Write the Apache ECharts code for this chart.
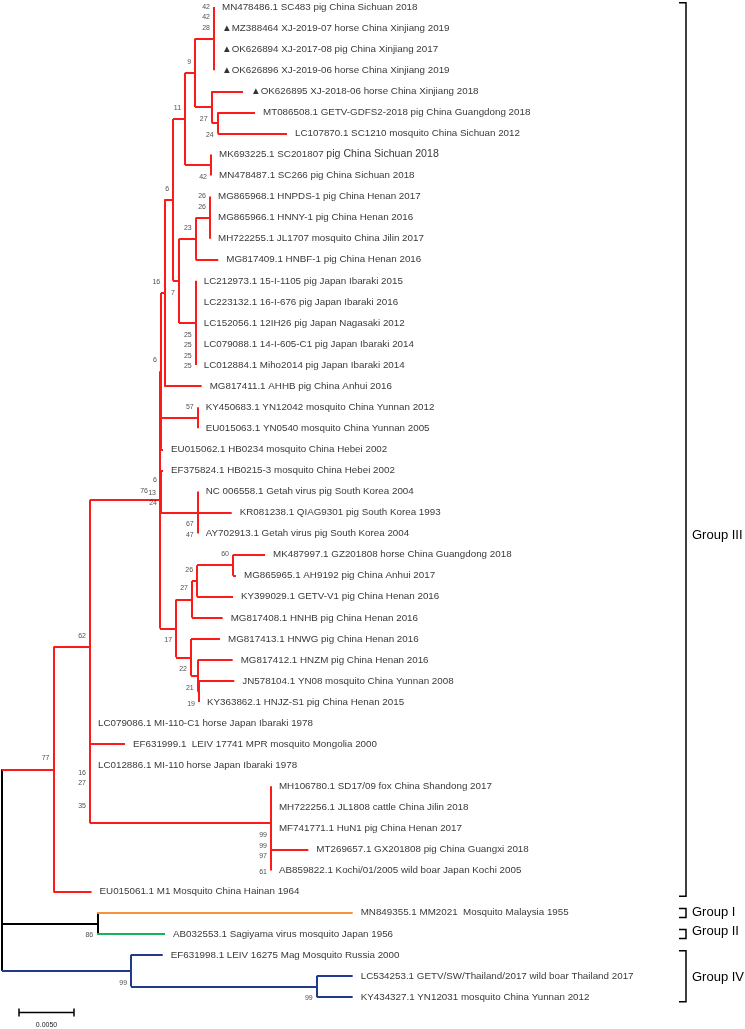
<!DOCTYPE html>
<html>
<head>
<meta charset="utf-8">
<script src="https://cdn.jsdelivr.net/npm/echarts@6/dist/echarts.min.js"></script>
<style>html,body{margin:0;padding:0;background:#fff;}#chart{width:745px;height:1029px;}</style>
</head>
<body>
<div id="chart"></div>
<script>
// ---- leaves (top to bottom) ----
const leafLabels = [
  'MN478486.1 SC483 pig China Sichuan 2018',
  '\u25B2MZ388464 XJ-2019-07 horse China Xinjiang 2019',
  '\u25B2OK626894 XJ-2017-08 pig China Xinjiang 2017',
  '\u25B2OK626896 XJ-2019-06 horse China Xinjiang 2019',
  '\u25B2OK626895 XJ-2018-06 horse China Xinjiang 2018',
  'MT086508.1 GETV-GDFS2-2018 pig China Guangdong 2018',
  'LC107870.1 SC1210 mosquito China Sichuan 2012',
  'MK693225.1 SC201807 pig China Sichuan 2018',
  'MN478487.1 SC266 pig China Sichuan 2018',
  'MG865968.1 HNPDS-1 pig China Henan 2017',
  'MG865966.1 HNNY-1 pig China Henan 2016',
  'MH722255.1 JL1707 mosquito China Jilin 2017',
  'MG817409.1 HNBF-1 pig China Henan 2016',
  'LC212973.1 15-I-1105 pig Japan Ibaraki 2015',
  'LC223132.1 16-I-676 pig Japan Ibaraki 2016',
  'LC152056.1 12IH26 pig Japan Nagasaki 2012',
  'LC079088.1 14-I-605-C1 pig Japan Ibaraki 2014',
  'LC012884.1 Miho2014 pig Japan Ibaraki 2014',
  'MG817411.1 AHHB pig China Anhui 2016',
  'KY450683.1 YN12042 mosquito China Yunnan 2012',
  'EU015063.1 YN0540 mosquito China Yunnan 2005',
  'EU015062.1 HB0234 mosquito China Hebei 2002',
  'EF375824.1 HB0215-3 mosquito China Hebei 2002',
  'NC 006558.1 Getah virus pig South Korea 2004',
  'KR081238.1 QIAG9301 pig South Korea 1993',
  'AY702913.1 Getah virus pig South Korea 2004',
  'MK487997.1 GZ201808 horse China Guangdong 2018',
  'MG865965.1 AH9192 pig China Anhui 2017',
  'KY399029.1 GETV-V1 pig China Henan 2016',
  'MG817408.1 HNHB pig China Henan 2016',
  'MG817413.1 HNWG pig China Henan 2016',
  'MG817412.1 HNZM pig China Henan 2016',
  'JN578104.1 YN08 mosquito China Yunnan 2008',
  'KY363862.1 HNJZ-S1 pig China Henan 2015',
  'LC079086.1 MI-110-C1 horse Japan Ibaraki 1978',
  'EF631999.1  LEIV 17741 MPR mosquito Mongolia 2000',
  'LC012886.1 MI-110 horse Japan Ibaraki 1978',
  'MH106780.1 SD17/09 fox China Shandong 2017',
  'MH722256.1 JL1808 cattle China Jilin 2018',
  'MF741771.1 HuN1 pig China Henan 2017',
  'MT269657.1 GX201808 pig China Guangxi 2018',
  'AB859822.1 Kochi/01/2005 wild boar Japan Kochi 2005',
  'EU015061.1 M1 Mosquito China Hainan 1964',
  'MN849355.1 MM2021  Mosquito Malaysia 1955',
  'AB032553.1 Sagiyama virus mosquito Japan 1956',
  'EF631998.1 LEIV 16275 Mag Mosquito Russia 2000',
  'LC534253.1 GETV/SW/Thailand/2017 wild boar Thailand 2017',
  'KY434327.1 YN12031 mosquito China Yunnan 2012'
];
// distance from root to each leaf tip (substitutions per site)
const leafDepths = [
  0.01927, 0.01927, 0.01927, 0.01927, 0.02191, 0.02300, 0.02591, 0.01900, 0.01900,
  0.01891, 0.01891, 0.01891, 0.01966,
  0.01761, 0.01761, 0.01761, 0.01761, 0.01761,
  0.01815, 0.01779, 0.01779, 0.01464, 0.01464,
  0.01779, 0.02088, 0.01779,
  0.02391, 0.02127, 0.02100, 0.02006,
  0.01982, 0.02097, 0.02112, 0.01791,
  0.00800, 0.01118, 0.00800,
  0.02445, 0.02445, 0.02445, 0.02785, 0.02445,
  0.00814, 0.03188, 0.01482,
  0.01461, 0.03188, 0.03188
];
// ---- internal nodes ----
const nodeNames = ['root','red77','n62','B0','Bx','By','n16','n6','n11','n9','top','n27a','n24a','SC',
  'n7','n23','HN','JP','n57','KR','n17','n27b','n26','n60','n22','n21','n19','V','MH','W','n86','gIV','n99b'];
const nodeDepths = [0, 0.00468, 0.00800, 0.01436, 0.01445, 0.01445, 0.01475, 0.01555, 0.01664, 0.01755,
  0.01927, 0.01906, 0.01961, 0.01900, 0.01609, 0.01761, 0.01891, 0.01761, 0.01779, 0.01779,
  0.01582, 0.01727, 0.01773, 0.02100, 0.01718, 0.01779, 0.01791, 0.00800, 0.02445, 0.02445,
  0.00866, 0.01173, 0.02861];
const nodeChildren = [
  ['red77','n86','gIV'],      // root
  ['n62', 42],                // red77
  ['B0', 34, 35, 'V'],        // n62
  ['Bx', 'By', 'n17'],        // B0
  ['n16', 'n57', 21],         // Bx
  [22, 'KR'],                 // By
  ['n6', 18],                 // n16
  ['n11', 'n7'],              // n6
  ['n9', 'SC'],               // n11
  ['top', 'n27a'],            // n9
  [0, 1, 2, 3],               // top
  [4, 'n24a'],                // n27a
  [5, 6],                     // n24a
  [7, 8],                     // SC
  ['n23', 'JP'],              // n7
  ['HN', 12],                 // n23
  [9, 10, 11],                // HN
  [13, 14, 15, 16, 17],       // JP
  [19, 20],                   // n57
  [23, 24, 25],               // KR
  ['n27b', 'n22'],            // n17
  ['n26', 29],                // n27b
  ['n60', 28],                // n26
  [26, 27],                   // n60
  [30, 'n21'],                // n22
  [31, 'n19'],                // n21
  [32, 33],                   // n19
  [36, 'MH'],                 // V
  [37, 38, 39, 'W'],          // MH
  [40, 41],                   // W
  [43, 44],                   // n86
  [45, 'n99b'],               // gIV
  [46, 47]                    // n99b
];
// bootstrap values (drawn above / below the node)
const bootAbove = {red77:[77], n62:[62], Bx:[6], By:[6], n16:[16], n6:[6], n11:[11], n9:[9],
  top:[42,42,28], n23:[23], HN:[26,26], n57:[57], n27b:[27], n26:[26], n60:[60], V:[16,27]};
const bootBelow = {By:[24], n27a:[27], n24a:[24], SC:[42], n7:[7], JP:[25,25,25,25], KR:[67,47],
  n17:[17], n22:[22], n21:[21], n19:[19], V:[35], MH:[99,99,97], W:[61], n86:[86], gIV:[99], n99b:[99]};
const bootBeside = {B0:[76, 13]};
// groups
const groupNames = ['Group III', 'Group I', 'Group II', 'Group IV'];
const groupFirstLeaf = [0, 43, 44, 45];
const groupLastLeaf = [42, 43, 44, 47];
const groupLabelAt = [25.1, 43, 43.9, 46.05];
// scale bar
const scaleBarLength = 0.005;
const scaleBarLabel = '0.0050';

// ---- styles ----
const RED = '#FF1A1A', ORANGE = '#F7923A', GREEN = '#16B35A', BLUE = '#203A8C', BLACK = '#000000';
const cladeColor = {root: BLACK, red77: RED, n86: BLACK, 43: ORANGE, 44: GREEN, gIV: BLUE};
const FONT = "'Liberation Sans', Arial, sans-serif";
const enlargedTailLeaf = 7, enlargedTailStart = 20; // leaf whose label tail is set in a larger size

// ---- build geometry from tree ----
const nodeIndex = {};
nodeNames.forEach((n, i) => nodeIndex[n] = i);
const isLeaf = c => typeof c === 'number';
const depthOf = c => isLeaf(c) ? leafDepths[c] : nodeDepths[nodeIndex[c]];
const yMemo = {};
function yOf(c) {
  if (isLeaf(c)) return c;
  if (yMemo[c] !== undefined) return yMemo[c];
  const ch = nodeChildren[nodeIndex[c]];
  return (yMemo[c] = (yOf(ch[0]) + yOf(ch[ch.length - 1])) / 2);
}
const segs = [];
function walk(node, inherited) {
  const col = cladeColor[node] || inherited;
  const ch = nodeChildren[nodeIndex[node]];
  const d = depthOf(node);
  segs.push({coords: [[d, yOf(ch[0])], [d, yOf(ch[ch.length - 1])]], lineStyle: {color: col}});
  ch.forEach(c => {
    const cc = cladeColor[c] || col;
    if (depthOf(c) > d) segs.push({coords: [[d, yOf(c)], [depthOf(c), yOf(c)]], lineStyle: {color: cc}});
    if (!isLeaf(c)) walk(c, col);
  });
}
walk('root', BLACK);

const leafPoints = leafLabels.map((t, i) => ({value: [leafDepths[i], i], name: t}));
function leafFormatter(p) {
  if (p.dataIndex === enlargedTailLeaf) {
    return '{a|' + p.name.slice(0, enlargedTailStart) + '}{b|' + p.name.slice(enlargedTailStart) + '}';
  }
  return '{a|' + p.name + '}';
}
const bootPoints = [];
Object.keys(bootAbove).forEach(n => {
  const arr = bootAbove[n];
  arr.forEach((v, k) => {
    const dy = -11 - 10.5 * (arr.length - 1 - k);
    bootPoints.push({value: [depthOf(n), yOf(n)], name: String(v), label: {offset: [0, dy]}});
  });
});
Object.keys(bootBelow).forEach(n => {
  bootBelow[n].forEach((v, k) => {
    const dy = 12 + 10.5 * k;
    bootPoints.push({value: [depthOf(n), yOf(n)], name: String(v), label: {offset: [0, dy]}});
  });
});
Object.keys(bootBeside).forEach(n => {
  const arr = bootBeside[n];
  arr.forEach((v, k) => {
    const dx = -8 * (arr.length - 1 - k);
    bootPoints.push({value: [depthOf(n), yOf(n)], name: String(v), label: {offset: [dx, -9 + 2 * k]}});
  });
});

const chart = echarts.init(document.getElementById('chart'), null, {renderer: 'canvas'});
chart.setOption({
  animation: false,
  backgroundColor: '#fff',
  grid: {left: 2, top: 7, width: 660, height: 990},
  xAxis: {type: 'value', min: 0, max: 0.06, show: false},
  yAxis: {type: 'value', min: 0, max: 47, inverse: true, show: false},
  series: [
    {
      type: 'lines', coordinateSystem: 'cartesian2d', polyline: false, silent: true,
      lineStyle: {width: 2, opacity: 1},
      data: segs, z: 2
    },
    {
      type: 'scatter', symbolSize: 0, silent: true, data: leafPoints, z: 3,
      label: {show: true, position: 'right', distance: 8, formatter: leafFormatter,
        rich: {
          a: {fontFamily: FONT, fontSize: 9.8, color: '#000'},
          b: {fontFamily: FONT, fontSize: 10.6, color: '#000'}
        }}
    },
    {
      type: 'scatter', symbolSize: 0, silent: true, data: bootPoints, z: 3,
      label: {show: true, position: 'left', distance: 4, formatter: p => p.name,
        fontFamily: FONT, fontSize: 7, color: '#222'}
    },
    {
      type: 'custom', coordinateSystem: 'cartesian2d', silent: true, z: 4,
      data: [[scaleBarLength, 0]],
      renderItem: (params, api) => {
        const w = api.size([api.value(0), 0])[0];
        const x0 = 19, y = 1012.5;
        return {type: 'group', children: [
          {type: 'line', shape: {x1: x0, y1: y, x2: x0 + w, y2: y}, style: {stroke: BLACK, lineWidth: 1.5}},
          {type: 'line', shape: {x1: x0, y1: y - 4, x2: x0, y2: y + 4}, style: {stroke: BLACK, lineWidth: 1.5}},
          {type: 'line', shape: {x1: x0 + w, y1: y - 4, x2: x0 + w, y2: y + 4}, style: {stroke: BLACK, lineWidth: 1.5}},
          {type: 'text', style: {text: scaleBarLabel, x: x0 + w / 2, y: 1025, align: 'center', verticalAlign: 'middle',
            font: '7px ' + FONT, fill: '#222'}}
        ]};
      }
    },
    {
      type: 'custom', coordinateSystem: 'cartesian2d', silent: true, z: 4,
      data: groupFirstLeaf.map((f, i) => [f, groupLastLeaf[i], groupLabelAt[i]]),
      renderItem: (params, api) => {
        const y0 = api.coord([0, api.value(0) - 0.2])[1];
        const y1 = api.coord([0, api.value(1) + 0.22])[1];
        const yl = api.coord([0, api.value(2)])[1];
        const xb = 686, xt = 679;
        return {type: 'group', children: [
          {type: 'polyline', shape: {points: [[xt, y0], [xb, y0], [xb, y1], [xt, y1]]},
            style: {stroke: BLACK, lineWidth: 1.5, fill: null}},
          {type: 'text', style: {text: groupNames[params.dataIndex], x: 692, y: yl, verticalAlign: 'middle',
            font: '13px ' + FONT, fill: '#000'}}
        ]};
      }
    }
  ]
});
</script>
</body>
</html>
